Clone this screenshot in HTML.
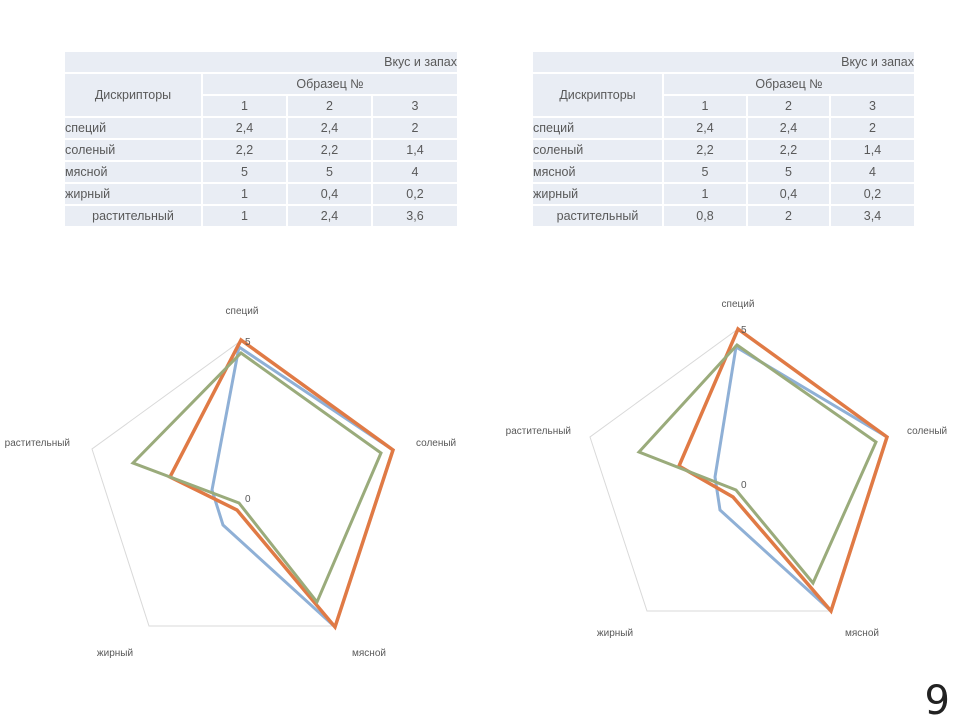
<!DOCTYPE html>
<html><head><meta charset="utf-8"><style>
body{margin:0;width:960px;height:720px;background:#fff;position:relative;overflow:hidden;font-family:"Liberation Sans","DejaVu Sans",sans-serif;color:#595959}
table{position:absolute;border-collapse:collapse;font-size:12.5px}
td{background:#e9edf4;border:2px solid #fff;height:20px;padding:0;text-align:center;white-space:nowrap}
td.l{text-align:left}
td.r{text-align:right}
.num{position:absolute;right:10px;bottom:-4px;font-size:40px;color:#222;font-family:"DejaVu Sans",sans-serif}
svg{position:absolute;left:0;top:0}
</style></head><body>
<table style="left:63px;top:50px;width:396px">
<tr><td colspan="4" class="r">Вкус и запах</td></tr>
<tr><td rowspan="2" style="width:136px">Дискрипторы</td><td colspan="3">Образец №</td></tr>
<tr><td style="width:83px">1</td><td style="width:83px">2</td><td>3</td></tr>
<tr><td class="l">специй</td><td>2,4</td><td>2,4</td><td>2</td></tr>
<tr><td class="l">соленый</td><td>2,2</td><td>2,2</td><td>1,4</td></tr>
<tr><td class="l">мясной</td><td>5</td><td>5</td><td>4</td></tr>
<tr><td class="l">жирный</td><td>1</td><td>0,4</td><td>0,2</td></tr>
<tr><td>растительный</td><td>1</td><td>2,4</td><td>3,6</td></tr>
</table>
<table style="left:531px;top:50px;width:385px">
<tr><td colspan="4" class="r">Вкус и запах</td></tr>
<tr><td rowspan="2" style="width:129px">Дискрипторы</td><td colspan="3">Образец №</td></tr>
<tr><td style="width:82px">1</td><td style="width:81px">2</td><td>3</td></tr>
<tr><td class="l">специй</td><td>2,4</td><td>2,4</td><td>2</td></tr>
<tr><td class="l">соленый</td><td>2,2</td><td>2,2</td><td>1,4</td></tr>
<tr><td class="l">мясной</td><td>5</td><td>5</td><td>4</td></tr>
<tr><td class="l">жирный</td><td>1</td><td>0,4</td><td>0,2</td></tr>
<tr><td>растительный</td><td>0,8</td><td>2</td><td>3,4</td></tr>
</table>
<svg width="960" height="720" font-family="Liberation Sans, sans-serif" font-size="10" fill="#595959">
<g fill="none" stroke-linejoin="miter">
<polygon points="242,340 392,449 335,626 149,626 92,449" stroke="#d9d9d9" stroke-width="1"/>
<polygon points="239,347 393,450 335,627 223,525 212,490" stroke="#8fb0d6" stroke-width="3"/>
<polygon points="241,340 393,450 335,627 237,510 170,477" stroke="#e07a45" stroke-width="3.5"/>
<polygon points="241,353 381,453 317,602 239,503 133,463" stroke="#9aab7b" stroke-width="3"/>
<polygon points="738,329 887,437 831,611 647,611 590,437" stroke="#d9d9d9" stroke-width="1"/>
<polygon points="736,347 887,437 831,611 720,510 715,477" stroke="#8fb0d6" stroke-width="3"/>
<polygon points="738,329 887,437 831,611 733,497 679,466" stroke="#e07a45" stroke-width="3.5"/>
<polygon points="737,345 876,442 813,583 736,490 639,452" stroke="#9aab7b" stroke-width="3"/>
</g>
<text x="242" y="314" text-anchor="middle">специй</text>
<text x="416" y="446">соленый</text>
<text x="369" y="656" text-anchor="middle">мясной</text>
<text x="115" y="656" text-anchor="middle">жирный</text>
<text x="70" y="446" text-anchor="end">растительный</text>
<text x="245" y="345">5</text>
<text x="245" y="502">0</text>
<text x="738" y="307" text-anchor="middle">специй</text>
<text x="907" y="434">соленый</text>
<text x="862" y="636" text-anchor="middle">мясной</text>
<text x="615" y="636" text-anchor="middle">жирный</text>
<text x="571" y="434" text-anchor="end">растительный</text>
<text x="741" y="333">5</text>
<text x="741" y="488">0</text>
</svg>
<div class="num">9</div>
</body></html>
